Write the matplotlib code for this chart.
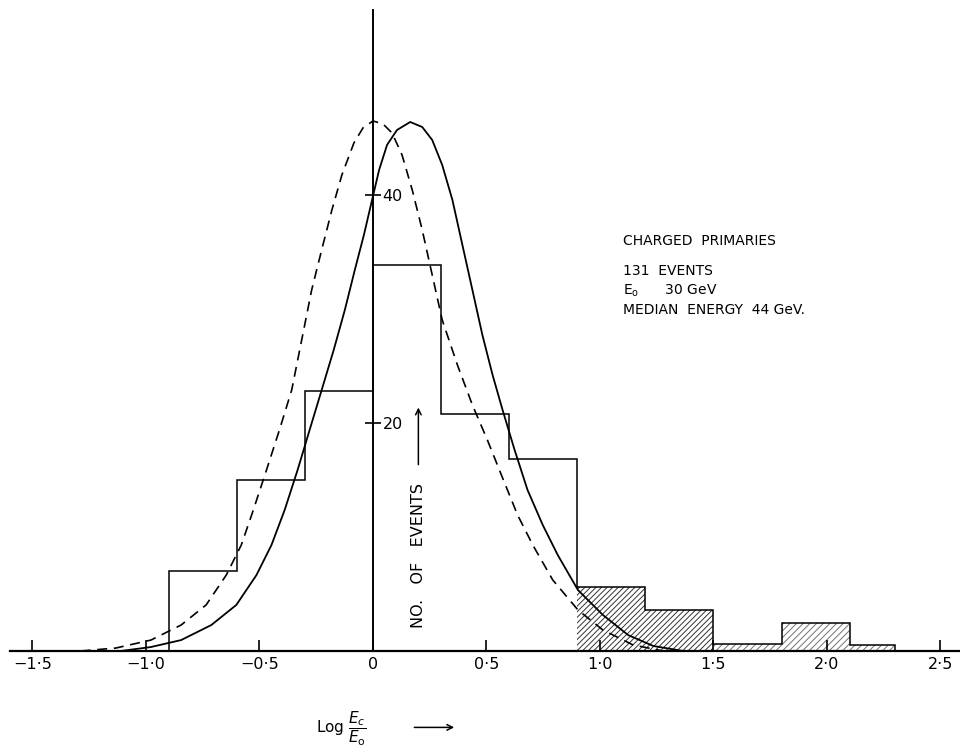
import numpy as np
import matplotlib
matplotlib.use('Agg')
import matplotlib.pyplot as plt

plt.rcParams['font.family'] = ['DejaVu Sans']
plt.rcParams['mathtext.fontset'] = 'dejavusans'
plt.rcParams['hatch.linewidth'] = 0.7

# histogram of events, bins in log(Ec/Eo)
bin_edges = [-0.9, -0.6, -0.3, 0.0, 0.3, 0.6, 0.9, 1.2, 1.5, 1.8, 2.1, 2.3]
counts = [7.0, 15.0, 22.8, 33.9, 20.8, 16.8, 5.6, 3.6, 0.6, 2.5, 0.5]
dense_from = 0.9
light_from = 1.5

# dashed curve
dash_x = [-1.288, -1.133, -0.978, -0.845, -0.735, -0.646, -0.580, -0.527, -0.469, -0.412,
          -0.358, -0.314, -0.270, -0.226, -0.181, -0.137, -0.084, -0.044, 0.0, 0.044,
          0.084, 0.128, 0.173, 0.217, 0.261, 0.305, 0.372, 0.438, 0.504, 0.571,
          0.637, 0.704, 0.792, 0.903, 1.013, 1.146, 1.279]
dash_y = [0.0, 0.26, 0.96, 2.28, 4.04, 6.67, 9.30, 12.37, 15.88, 19.39,
          22.89, 27.28, 31.67, 35.18, 38.68, 41.75, 44.56, 45.88, 46.49, 46.23,
          45.44, 43.51, 40.44, 36.93, 32.98, 29.04, 25.09, 21.58, 18.51, 15.18,
          11.93, 9.30, 6.23, 3.60, 1.84, 0.53, 0.0]

# solid curve
solid_x = [-1.111, -0.978, -0.845, -0.712, -0.602, -0.513, -0.447, -0.389, -0.332, -0.279,
           -0.226, -0.173, -0.124, -0.080, -0.040, -0.004, 0.027, 0.062, 0.106, 0.164,
           0.217, 0.261, 0.305, 0.350, 0.394, 0.438, 0.482, 0.527, 0.571, 0.624,
           0.681, 0.748, 0.814, 0.903, 1.013, 1.124, 1.235, 1.367]
solid_y = [0.0, 0.35, 0.96, 2.28, 4.04, 6.67, 9.30, 12.37, 15.88, 19.39,
           22.89, 26.40, 29.91, 33.42, 36.49, 39.56, 42.19, 44.39, 45.70, 46.40,
           45.96, 44.82, 42.63, 39.56, 35.61, 31.67, 27.72, 24.21, 21.14, 17.63,
           14.12, 11.05, 8.42, 5.35, 3.16, 1.40, 0.44, 0.0]

xticks = [-1.5, -1.0, -0.5, 0.0, 0.5, 1.0, 1.5, 2.0, 2.5]
xticklabels = ['\u22121\u00b75', '\u22121\u00b70', '\u22120\u00b75', '0', '0\u00b75',
               '1\u00b70', '1\u00b75', '2\u00b70', '2\u00b75']
yticks = [20, 40]

info_lines = ['CHARGED  PRIMARIES', '131  EVENTS', r'E$_{\rm o}$      30 GeV',
              'MEDIAN  ENERGY  44 GeV.']
info_y = [36.0, 33.3, 31.6, 29.9]

fig = plt.figure(figsize=(9.6, 7.51), dpi=100)
ax = fig.add_axes([0, 0, 1, 1])
ax.set_xlim(-1.643, 2.586)
ax.set_ylim(-8.77, 57.1)

# shaded tail
e = np.array(bin_edges)
c = np.array(counts)
w = np.diff(e)
m1 = (e[:-1] >= dense_from) & (e[:-1] < light_from)
m2 = e[:-1] >= light_from
ax.bar(e[:-1][m1], c[m1], width=w[m1], align='edge', facecolor='white',
       edgecolor='0.2', hatch='//////', linewidth=0)
ax.bar(e[:-1][m2], c[m2], width=w[m2], align='edge', facecolor='white',
       edgecolor='0.45', hatch='/////', linewidth=0)
ax.stairs(counts, bin_edges, baseline=0, color='black', linewidth=1.1)

ax.plot(dash_x, dash_y, color='black', linewidth=1.2, linestyle=(0, (6, 4)))
ax.plot(solid_x, solid_y, color='black', linewidth=1.3)

# axes
for s in ['top', 'left']:
    ax.spines[s].set_visible(False)
ax.spines['bottom'].set_position(('data', 0))
ax.spines['bottom'].set_bounds(-1.6, 2.586)
ax.spines['right'].set_position(('data', 0))
ax.spines['right'].set_bounds(0, 56.2)
ax.spines['bottom'].set_linewidth(1.6)
ax.spines['right'].set_linewidth(1.4)
ax.yaxis.tick_right()
ax.set_xticks(xticks)
ax.set_xticklabels(xticklabels, fontsize=11.5)
ax.set_yticks(yticks)
ax.set_yticklabels([str(v) for v in yticks], fontsize=11.5)
ax.tick_params(axis='x', direction='in', length=8, width=1.2, pad=4)
ax.tick_params(axis='y', direction='inout', length=12, width=1.2, pad=1)

ax.text(0.20, 8.4, 'NO.   OF   EVENTS', rotation=90, ha='center', va='center',
        fontsize=11.5)
ax.annotate('', xy=(0.20, 21.6), xytext=(0.20, 16.1),
            arrowprops=dict(arrowstyle='->', color='black', lw=1.1))

for line, yy in zip(info_lines, info_y):
    ax.text(1.10, yy, line, fontsize=10, ha='left', va='center')

ax.text(-0.25, -6.8, r'Log $\dfrac{E_c}{E_{\rm o}}$', fontsize=11, ha='left', va='center')
ax.annotate('', xy=(0.37, -6.7), xytext=(0.17, -6.7),
            arrowprops=dict(arrowstyle='->', color='black', lw=1.1))

fig.savefig('out.png', dpi=100)
